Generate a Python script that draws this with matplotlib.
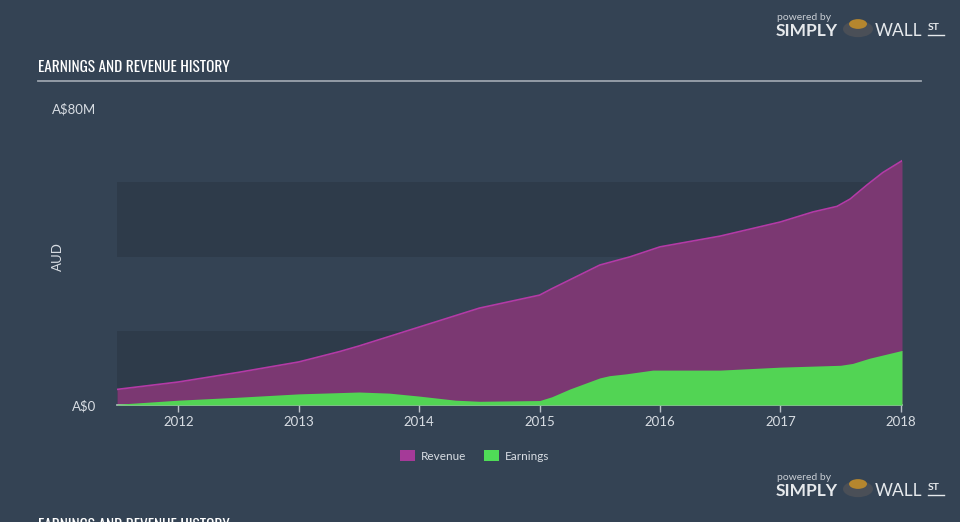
import matplotlib.pyplot as plt
from matplotlib.patches import Rectangle, Circle

# values in A$ millions
rev_years = [2011.49, 2012.0, 2012.5, 2013.0, 2013.34, 2013.5, 2014.0, 2014.5, 2015.0, 2015.1,
             2015.25, 2015.5, 2015.75, 2016.0, 2016.5, 2017.0, 2017.27, 2017.47, 2017.58,
             2017.72, 2017.85, 2018.01]
revenue = [4.2, 6.2, 8.8, 11.6, 14.4, 15.9, 21.0, 26.1, 29.6, 31.3,
           33.7, 37.7, 39.9, 42.6, 45.5, 49.3, 52.0, 53.5, 55.5,
           59.3, 62.6, 65.8]

earn_years = [2011.49, 2012.0, 2012.5, 2013.0, 2013.5, 2013.75, 2014.0, 2014.3, 2014.5,
              2015.0, 2015.1, 2015.25, 2015.5, 2015.58, 2015.72, 2015.94, 2016.5, 2017.0,
              2017.5, 2017.6, 2017.74, 2018.01]
earnings = [0.2, 1.3, 2.1, 3.0, 3.5, 3.2, 2.4, 1.3, 1.0,
            1.2, 2.2, 4.3, 7.3, 7.9, 8.4, 9.4, 9.4, 10.2,
            10.7, 11.2, 12.6, 14.7]

year_ticks = [2012, 2013, 2014, 2015, 2016, 2017, 2018]

bg = '#344354'
band = '#2e3b4a'
text_col = '#d8dde3'
title_font = ['Oswald', 'Fjalla One', 'Roboto Condensed', 'DejaVu Sans']
body_font = ['Lato', 'DejaVu Sans']

fig = plt.figure(figsize=(9.6, 5.22), dpi=100, facecolor=bg)
ax = fig.add_axes([117 / 960, 1 - 405 / 522, 785 / 960, 297 / 522])
ax.set_facecolor(bg)
ax.set_xlim(2011.49, 2018.01)
ax.set_ylim(0, 80)

# horizontal bands
for lo in [0, 40]:
    ax.axhspan(lo, lo + 20, color=band, lw=0, zorder=0)

ax.fill_between(rev_years, revenue, color='#7b3872', lw=0, zorder=1)
ax.plot(rev_years, revenue, color='#b43aa6', lw=1.2, zorder=2)
ax.fill_between(earn_years, earnings, color='#52d454', lw=0, zorder=3)

for s in ['top', 'right', 'left']:
    ax.spines[s].set_visible(False)
ax.spines['bottom'].set_color('#b9c0c8')
ax.spines['bottom'].set_linewidth(1.2)

ax.set_xticks(year_ticks)
ax.set_xticklabels([str(y) for y in year_ticks], color=text_col, fontsize=9.5, family=body_font)
ax.tick_params(axis='x', color='#b9c0c8', length=5, width=1, pad=3)
ax.set_yticks([0, 80])
ax.set_yticklabels(['A$0', 'A$80M'], color=text_col, fontsize=9.5, family=body_font)
ax.tick_params(axis='y', length=0, pad=15)
ax.set_ylabel('AUD', color=text_col, fontsize=9.5, family=body_font)
ax.yaxis.set_label_coords(-0.068, 0.5)

# title and rule
fig.text(38 / 960, 1 - 67 / 522, 'EARNINGS AND REVENUE HISTORY', color='white', fontsize=11,
         fontweight='bold', family=title_font, va='center')
fig.add_artist(plt.Line2D([38 / 960, 921 / 960], [1 - 81 / 522, 1 - 81 / 522],
                          color='#9aa3ad', lw=1.3))

# legend
def legend_item(x, color, label):
    fig.add_artist(Rectangle((x / 960, 1 - 461 / 522), 15 / 960, 11 / 522,
                             transform=fig.transFigure, color=color, lw=0))
    fig.text((x + 21) / 960, 1 - 456 / 522, label, color=text_col, fontsize=8.5, va='center',
             family=body_font)

legend_item(400, '#a53a98', 'Revenue')
legend_item(484, '#4fdd57', 'Earnings')

# logo text
def logo(y):
    fig.text(777 / 960, 1 - (y - 13) / 522, 'powered by', color='#c9ced4', fontsize=7.5,
             va='center', family=body_font)
    fig.text(776 / 960, 1 - y / 522, 'SIMPLY', color='#e6e9ec', fontsize=12.5, fontweight='bold',
             va='center', family=body_font)
    fig.add_artist(Circle((858 / 960, 1 - (y - 2) / 522), 15 / 960, transform=fig.transFigure,
                          color='#4a4f57', lw=0))
    fig.add_artist(Circle((858 / 960, 1 - (y - 7) / 522), 9 / 960, transform=fig.transFigure,
                          color='#b5862e', lw=0))
    fig.text(875 / 960, 1 - y / 522, 'WALL', color='#e6e9ec', fontsize=12.5, va='center',
             family=body_font)
    fig.text(928 / 960, 1 - (y - 3) / 522, 'ST', color='#e6e9ec', fontsize=7.5, fontweight='bold',
             va='center', family=body_font)
    fig.add_artist(plt.Line2D([928 / 960, 944 / 960], [1 - (y + 4) / 522, 1 - (y + 4) / 522],
                              color='#e6e9ec', lw=1))

logo(31)
logo(491)

fig.text(38 / 960, 1 - 526 / 522, 'EARNINGS AND REVENUE HISTORY', color='white', fontsize=11,
         fontweight='bold', family=title_font, va='center')

fig.savefig('out.png', dpi=100, facecolor=bg)
